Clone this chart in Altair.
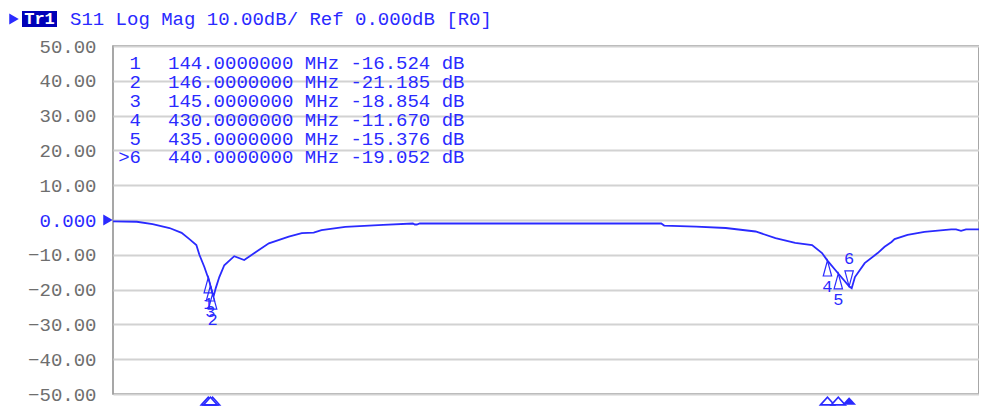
import altair as alt
import pandas as pd

# ---- trace data (MHz, dB) ----
freq_mhz = [100, 111, 118.3, 126.1, 131.7, 135.3, 138.5, 139.9, 142.2, 143.6,
            144, 145, 146, 146.6, 147.5, 149.1, 151.4, 156, 160.6, 166,
            172, 181.2, 187.2, 192.7, 196.3, 207.3, 224.8, 238.5, 239.4, 240.3,
            241.7, 353.2, 354.6, 369.3, 383, 396.8, 406, 415.1, 422.9, 427.5,
            430, 435, 440, 441.2, 442.7, 447.2, 453.2, 456.4, 459.6, 461,
            467, 474.8, 487.2, 489.4, 491.7, 494, 500]
s11_db = [-0.4, -0.5, -1.2, -2.3, -3.7, -5.5, -7.2, -10.0, -13.5, -16.0,
          -16.524, -18.854, -21.185, -21.6, -19.5, -16.4, -13.0, -10.4, -11.5, -9.2,
          -6.7, -4.8, -3.8, -3.6, -2.9, -2.0, -1.4, -1.0, -1.3, -1.3,
          -1.0, -1.0, -1.6, -1.9, -2.3, -3.3, -5.2, -6.6, -7.2, -9.5,
          -11.670, -15.376, -19.052, -19.6, -16.4, -12.4, -9.5, -7.7, -6.3, -5.5,
          -4.3, -3.4, -2.7, -2.7, -3.1, -2.7, -2.7]

# ---- markers ----
marker_ids = ["1", "2", "3", "4", "5", "6"]
marker_table_ids = ["1", "2", "3", "4", "5", ">6"]
marker_freq = [144, 146, 145, 430, 435, 440]
marker_db = [-16.524, -21.185, -18.854, -11.670, -15.376, -19.052]
marker_active = [False, False, False, False, False, True]

y_ticks = list(range(-50, 51, 10))
x_grid = list(range(100, 501, 40))

header_text = "S11 Log Mag 10.00dB/ Ref 0.000dB [R0]"
trace_name = "Tr1"

BLUE = "#2a2aff"
FONT = "Liberation Mono"

trace_df = pd.DataFrame({"freq": freq_mhz, "db": s11_db})
mk_df = pd.DataFrame({
    "id": marker_ids,
    "tid": marker_table_ids,
    "freq": marker_freq,
    "db": marker_db,
    "active": marker_active,
    "row": list(range(len(marker_ids))),
})
mk_df["line"] = [f"{f:.7f} MHz {v:.3f} dB" for f, v in zip(marker_freq, marker_db)]

xs = alt.Scale(domain=[100, 500], nice=False, zero=False)
ys = alt.Scale(domain=[-50, 50], nice=False, zero=False)
rows = alt.Scale(domain=[0, 5], range=[17.3, 111.3], nice=False, zero=False)

x_enc = alt.X("freq:Q", scale=xs, title=None,
              axis=alt.Axis(values=x_grid, labels=False, ticks=False, tickSize=0,
                            domain=False, grid=True, gridColor="#d2d2d2", gridWidth=2))
y_enc = alt.Y("db:Q", scale=ys, title=None,
              axis=alt.Axis(values=y_ticks, ticks=False, tickSize=0, domain=False,
                            grid=True, gridColor="#d2d2d2", gridWidth=2,
                            labelExpr="datum.value == 0 ? '0.000' : format(datum.value, '.2f')",
                            labelColor=alt.condition("datum.value == 0", alt.value(BLUE), alt.value("#6e6e6e")),
                            labelFont=FONT, labelFontSize=19, labelPadding=17))

X = alt.X("freq:Q", scale=xs, axis=None)
Y = alt.Y("db:Q", scale=ys, axis=None)

trace = alt.Chart(trace_df).mark_line(color=BLUE, strokeWidth=1.8).encode(x=x_enc, y=y_enc)

up_path = "M0,0L0.6,2.2L-0.6,2.2Z"
down_path = "M0,0L0.6,-2.2L-0.6,-2.2Z"

mk_up = alt.Chart(mk_df).transform_filter("!datum.active").mark_point(
    shape=up_path, size=196, filled=False, color=BLUE, strokeWidth=1.2, opacity=1
).encode(x=X, y=Y)
mk_down = alt.Chart(mk_df).transform_filter("datum.active").mark_point(
    shape=down_path, size=196, filled=False, color=BLUE, strokeWidth=1.2, opacity=1
).encode(x=X, y=Y)

mk_lab_up = alt.Chart(mk_df).transform_filter("!datum.active").mark_text(
    font=FONT, fontSize=17, color=BLUE, baseline="middle", dy=26
).encode(x=X, y=Y, text="id:N")
mk_lab_down = alt.Chart(mk_df).transform_filter("datum.active").mark_text(
    font=FONT, fontSize=17, color=BLUE, baseline="middle", dy=-27
).encode(x=X, y=Y, text="id:N")

tri_path = "M-1,0.55L0,-0.55L1,0.55Z"
bottom_open = alt.Chart(mk_df).transform_filter("!datum.active").mark_point(
    shape=tri_path, size=196, filled=True, fill="white", stroke=BLUE, strokeWidth=1.6, opacity=1,
    yOffset=7
).encode(x=X, y=alt.datum(-50, scale=ys, axis=None))
bottom_act = alt.Chart(mk_df).transform_filter("datum.active").mark_point(
    shape=tri_path, size=196, filled=True, color=BLUE, opacity=1, yOffset=7
).encode(x=X, y=alt.datum(-50, scale=ys, axis=None))

ref_tri = alt.Chart(pd.DataFrame({"db": [0]})).mark_point(
    shape="triangle-right", size=120, filled=True, color=BLUE, opacity=1, xOffset=-5
).encode(x=alt.value(0), y=Y)

# marker readout table
tbl_num = alt.Chart(mk_df).mark_text(
    font=FONT, fontSize=19, color=BLUE, align="right", baseline="middle"
).encode(x=alt.value(28), y=alt.Y("row:Q", scale=rows, axis=None), text="tid:N")
tbl_line = alt.Chart(mk_df).mark_text(
    font=FONT, fontSize=19, color=BLUE, align="left", baseline="middle"
).encode(x=alt.value(55), y=alt.Y("row:Q", scale=rows, axis=None), text="line:N")

# header
hdr_df = pd.DataFrame({"t": [header_text], "n": [trace_name]})
hdr_tri = alt.Chart(hdr_df).mark_point(
    shape="triangle-right", size=120, filled=True, color=BLUE, opacity=1
).encode(x=alt.value(-99), y=alt.value(-27))
hdr_box = alt.Chart(hdr_df).mark_rect(color="#0000b8").encode(
    x=alt.value(-91), x2=alt.value(-56), y=alt.value(-35), y2=alt.value(-19))
hdr_name = alt.Chart(hdr_df).mark_text(
    font=FONT, fontSize=17, fontWeight="bold", color="white", align="center", baseline="middle"
).encode(x=alt.value(-73.5), y=alt.value(-27), text="n:N")
hdr_text = alt.Chart(hdr_df).mark_text(
    font=FONT, fontSize=19, color=BLUE, align="left", baseline="middle"
).encode(x=alt.value(-43), y=alt.value(-27), text="t:N")

chart = alt.layer(
    trace, mk_up, mk_down, mk_lab_up, mk_lab_down, bottom_open, bottom_act, ref_tri,
    tbl_num, tbl_line, hdr_tri, hdr_box, hdr_name, hdr_text
).resolve_scale(y="independent").properties(
    width=866, height=348,
    autosize=alt.AutoSizeParams(type="none"),
    padding={"left": 105, "top": 38, "right": 0, "bottom": 13},
    background="white",
).configure_view(stroke="#8a8a8a", strokeWidth=1.5)

chart.save("out.html", embed_options={"renderer": "svg", "actions": False})
